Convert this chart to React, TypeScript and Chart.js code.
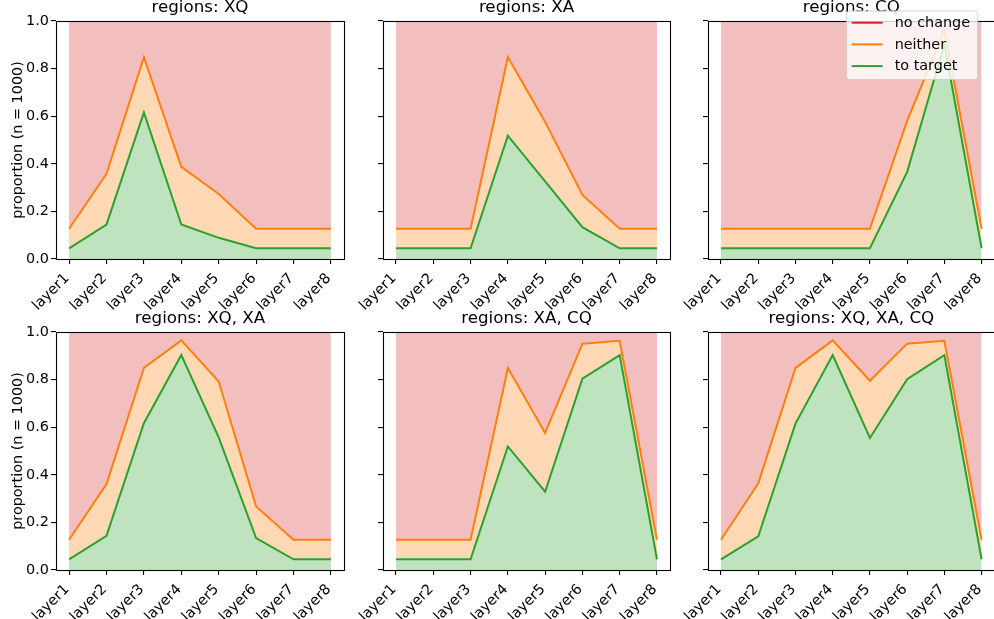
import React, { useEffect, useRef } from 'react';
import { Chart, registerables } from 'chart.js';

Chart.register(...registerables);

// ---- data -------------------------------------------------------------
const layers = ['layer1', 'layer2', 'layer3', 'layer4', 'layer5', 'layer6', 'layer7', 'layer8'];
const yTicks = [0, 0.2, 0.4, 0.6, 0.8, 1.0];

const xqTarget = [0.045, 0.145, 0.616, 0.145, 0.089, 0.045, 0.045, 0.045];
const xqNeither = [0.082, 0.213, 0.232, 0.242, 0.184, 0.082, 0.082, 0.082];
const xqNoChange = [0.873, 0.642, 0.152, 0.613, 0.727, 0.873, 0.873, 0.873];

const xaTarget = [0.045, 0.045, 0.045, 0.518, 0.326, 0.134, 0.045, 0.045];
const xaNeither = [0.082, 0.082, 0.082, 0.331, 0.25, 0.135, 0.082, 0.082];
const xaNoChange = [0.873, 0.873, 0.873, 0.151, 0.424, 0.731, 0.873, 0.873];

const cqTarget = [0.045, 0.045, 0.045, 0.045, 0.045, 0.366, 0.902, 0.045];
const cqNeither = [0.082, 0.082, 0.082, 0.082, 0.082, 0.214, 0.061, 0.082];
const cqNoChange = [0.873, 0.873, 0.873, 0.873, 0.873, 0.42, 0.037, 0.873];

const xqXaTarget = [0.045, 0.144, 0.617, 0.903, 0.557, 0.134, 0.045, 0.045];
const xqXaNeither = [0.082, 0.217, 0.232, 0.062, 0.235, 0.133, 0.082, 0.082];
const xqXaNoChange = [0.873, 0.639, 0.151, 0.035, 0.208, 0.733, 0.873, 0.873];

const xaCqTarget = [0.045, 0.045, 0.045, 0.519, 0.329, 0.804, 0.903, 0.045];
const xaCqNeither = [0.082, 0.082, 0.082, 0.33, 0.247, 0.147, 0.06, 0.082];
const xaCqNoChange = [0.873, 0.873, 0.873, 0.151, 0.424, 0.049, 0.037, 0.873];

const allTarget = [0.045, 0.141, 0.615, 0.903, 0.555, 0.802, 0.903, 0.045];
const allNeither = [0.082, 0.223, 0.234, 0.062, 0.24, 0.149, 0.06, 0.082];
const allNoChange = [0.873, 0.636, 0.151, 0.035, 0.205, 0.049, 0.037, 0.873];

const panels = [
  { title: 'regions: XQ', target: xqTarget, neither: xqNeither, noChange: xqNoChange },
  { title: 'regions: XA', target: xaTarget, neither: xaNeither, noChange: xaNoChange },
  { title: 'regions: CQ', target: cqTarget, neither: cqNeither, noChange: cqNoChange },
  { title: 'regions: XQ, XA', target: xqXaTarget, neither: xqXaNeither, noChange: xqXaNoChange },
  { title: 'regions: XA, CQ', target: xaCqTarget, neither: xaCqNeither, noChange: xaCqNoChange },
  { title: 'regions: XQ, XA, CQ', target: allTarget, neither: allNeither, noChange: allNoChange },
];

// ---- styling ----------------------------------------------------------
const FONT = '"DejaVu Sans", sans-serif';
const TICK_SIZE = 14.4;
const TITLE_SIZE = 16.7;
const GREEN = '#2ca02c';
const ORANGE = '#ff7f0e';
const RED = '#d62728';

const columns = [
  { left: 0, width: 350, axisW: 56, padRight: 6 },
  { left: 350, width: 330, axisW: 33, padRight: 10 },
  { left: 680, width: 320, axisW: 28, padRight: 4 },
];
const rows = [
  { top: 0, height: 310, padTop: 21, axisH: 51 },
  { top: 310, height: 309, padTop: 22, axisH: 49 },
];

type PanelData = { title: string; target: number[]; neither: number[]; noChange: number[] };

function Panel({ panel, col, row, showYLabels, showLegend }: {
  panel: PanelData; col: number; row: number; showYLabels: boolean; showLegend: boolean;
}) {
  const ref = useRef<HTMLCanvasElement | null>(null);
  const c = columns[col];
  const r = rows[row];

  useEffect(() => {
    if (!ref.current) return;
    const pts = (arr: number[]) => arr.map((v, i) => ({ x: i, y: v }));

    const decor = {
      id: 'decor',
      afterDraw(chart: any) {
        const { ctx, chartArea } = chart;
        const { left, right, top, bottom } = chartArea;
        ctx.save();
        // axes frame
        ctx.strokeStyle = '#000';
        ctx.lineWidth = 1.1;
        ctx.strokeRect(Math.round(left) + 0.5, Math.round(top) + 0.5,
          Math.round(right - left), Math.round(bottom - top));
        // title
        ctx.fillStyle = '#000';
        ctx.font = `${TITLE_SIZE}px ${FONT}`;
        ctx.textAlign = 'center';
        ctx.textBaseline = 'alphabetic';
        ctx.fillText(panel.title, (left + right) / 2, top - 9);
        // y axis label
        if (showYLabels) {
          ctx.save();
          ctx.translate(18.5, (top + bottom) / 2);
          ctx.rotate(-Math.PI / 2);
          ctx.font = `${TICK_SIZE}px ${FONT}`;
          ctx.textAlign = 'center';
          ctx.textBaseline = 'middle';
          ctx.fillText('proportion (n = 1000)', 0, 0);
          ctx.restore();
        }
        // legend box
        if (showLegend) {
          const bx = right - 148;
          const by = top - 10;
          const bw = 131;
          const bh = 68.5;
          ctx.beginPath();
          const rad = 3;
          ctx.moveTo(bx + rad, by);
          ctx.arcTo(bx + bw, by, bx + bw, by + bh, rad);
          ctx.arcTo(bx + bw, by + bh, bx, by + bh, rad);
          ctx.arcTo(bx, by + bh, bx, by, rad);
          ctx.arcTo(bx, by, bx + bw, by, rad);
          ctx.closePath();
          ctx.fillStyle = 'rgba(255,255,255,0.8)';
          ctx.fill();
          ctx.strokeStyle = 'rgba(204,204,204,0.8)';
          ctx.lineWidth = 1;
          ctx.stroke();
          const items = [
            { label: 'no change', color: RED },
            { label: 'neither', color: ORANGE },
            { label: 'to target', color: GREEN },
          ];
          ctx.font = `${TICK_SIZE}px ${FONT}`;
          ctx.textAlign = 'left';
          ctx.textBaseline = 'middle';
          items.forEach((it, i) => {
            const y = by + 11.7 + i * 21.7;
            ctx.strokeStyle = it.color;
            ctx.lineWidth = 2;
            ctx.beginPath();
            ctx.moveTo(bx + 5, y);
            ctx.lineTo(bx + 36, y);
            ctx.stroke();
            ctx.fillStyle = '#000';
            ctx.fillText(it.label, bx + 48, y + 0.5);
          });
        }
        ctx.restore();
      },
    };

    const chart = new Chart(ref.current, {
      type: 'line',
      data: {
        datasets: [
          {
            label: 'to target', data: pts(panel.target), borderColor: GREEN,
            backgroundColor: 'rgba(44,160,44,0.3)', fill: 'origin',
          },
          {
            label: 'neither', data: pts(panel.neither), borderColor: ORANGE,
            backgroundColor: 'rgba(255,127,14,0.3)', fill: '-1',
          },
          {
            label: 'no change', data: pts(panel.noChange), borderColor: RED,
            backgroundColor: 'rgba(214,39,40,0.3)', fill: '-1',
          },
        ],
      },
      options: {
        animation: false,
        responsive: false,
        maintainAspectRatio: false,
        events: [],
        elements: {
          line: { borderWidth: 2, tension: 0 },
          point: { radius: 0 },
        },
        layout: { padding: { top: r.padTop, right: c.padRight, left: 0, bottom: 0 } },
        plugins: {
          legend: { display: false },
          tooltip: { enabled: false },
          title: { display: false },
        },
        scales: {
          x: {
            type: 'linear',
            min: -0.35,
            max: 7.35,
            afterBuildTicks: (s: any) => { s.ticks = layers.map((_, i) => ({ value: i })); },
            afterFit: (s: any) => { s.height = r.axisH; },
            border: { display: false },
            grid: { drawOnChartArea: false, drawTicks: true, tickLength: 5, color: '#000', lineWidth: 1.1 },
            ticks: {
              callback: (v: any) => layers[v] ?? '',
              autoSkip: false,
              minRotation: 45,
              maxRotation: 45,
              padding: 6,
              labelOffset: -2,
              color: '#000',
              font: { family: FONT, size: TICK_SIZE },
            },
          },
          y: {
            type: 'linear',
            stacked: true,
            min: 0,
            max: 1,
            afterBuildTicks: (s: any) => { s.ticks = yTicks.map((v) => ({ value: v })); },
            afterFit: (s: any) => { s.width = c.axisW; },
            border: { display: false },
            grid: { drawOnChartArea: false, drawTicks: true, tickLength: 5, color: '#000', lineWidth: 1.1 },
            ticks: {
              callback: (v: any) => (showYLabels ? Number(v).toFixed(1) : ''),
              padding: 2,
              color: '#000',
              font: { family: FONT, size: TICK_SIZE },
            },
          },
        },
      },
      plugins: [decor],
    } as any);
    return () => chart.destroy();
  }, [panel, col, row, showYLabels, showLegend]);

  return (
    <canvas
      ref={ref}
      width={c.width}
      height={r.height}
      style={{ position: 'absolute', left: c.left, top: r.top, width: c.width, height: r.height }}
    />
  );
}

export default function App() {
  useEffect(() => {
    document.body.style.margin = '0';
    document.body.style.background = '#fff';
  }, []);
  return (
    <div style={{ position: 'relative', width: 994, height: 619, overflow: 'hidden', background: '#fff' }}>
      {panels.map((p, i) => (
        <Panel
          key={p.title}
          panel={p}
          col={i % 3}
          row={Math.floor(i / 3)}
          showYLabels={i % 3 === 0}
          showLegend={i === 2}
        />
      ))}
    </div>
  );
}
